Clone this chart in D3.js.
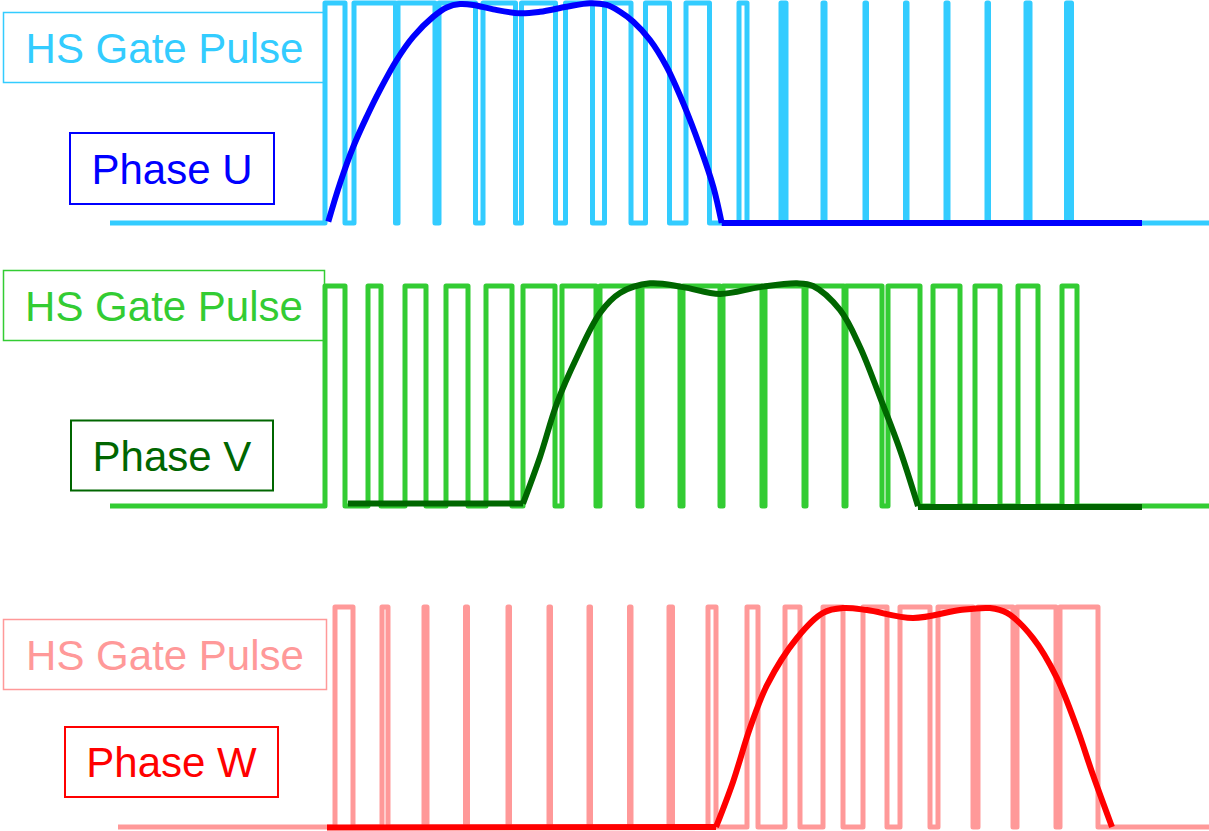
<!DOCTYPE html>
<html><head><meta charset="utf-8">
<script src="https://cdn.jsdelivr.net/npm/d3@7"></script>
<style>html,body{margin:0;padding:0;background:#fff;} svg{display:block;}</style>
</head><body>
<svg id="chart" width="1209" height="831"></svg>
<script>
// ---------------- DATA (time in carrier-sample units, level 0..1) ----------------
const phaseNames = ["U", "V", "W"];
const gateLabel = "HS Gate Pulse";
const phaseLabels = ["Phase U", "Phase V", "Phase W"];

// HS gate pulse: [rise, fall] of each high interval
const gateU = [[325,345],[354,395.5],[398,435],[439,475.5],[483,515.5],[521.5,555.5],[565.5,592.5],[604.5,631],[645.5,669.5],[686,709.5],
               [739,747],[781,786],[823,825],[865,866.5],[905.5,907],[946,948],[987,988.5],[1026,1030],[1066.5,1071.5]];
const gateV = [[325,345],[368,381],[405,426],[446,468],[486,512],[523,555],[562,596],[600,638],[642,680],[683,720],
               [723,762],[765,804],[806,844],[846,882],[888,920],[933,960],[975,1000],[1018,1038],[1062,1077]];
const gateW = [[335,353],[382,388],[424,427],[465.5,467.5],[508,509.5],[549,550.5],[589,590.5],[629.5,631],[669,672.5],[708,716],
               [747,758],[785,800],[823,843],[863,887],[900,930],[938,973],[978,1013],[1017,1056],[1060,1098]];
const gateStart = [110, 110, 118];
const gateEnd = [1209, 1209, 1209];

// phase output waveforms [t, level]
const humpU = [[328.3,0.006],[340,0.180],[353.3,0.347],[366.7,0.483],[380,0.605],[396.7,0.741],[413.3,0.847],[433.3,0.938],[446.7,0.980],[460,0.995],
               [473.3,0.991],[493.3,0.971],[520,0.953],[540,0.960],[566.7,0.983],[590,0.999],[606.7,0.991],[620,0.960],[633.3,0.915],[650,0.832],
               [666.7,0.710],[683.3,0.544],[700,0.347],[713.3,0.165],[721.7,0]];
const flatU = [[[721.7,0],[1142,0]]];

const humpV = [[523,0.011],[540,0.223],[557,0.468],[577,0.677],[600,0.877],[620,0.968],[650,1.012],[683,0.995],[720,0.964],[760,0.995],
               [797,1.012],[813,1.0],[840,0.891],[860,0.723],[880,0.495],[900,0.255],[918,0.0]];
const flatV = [[[348,0.011],[523,0.011]],[[918,-0.005],[1142,-0.005]]];

const humpW = [[716,0],[733,0.205],[750,0.45],[767,0.645],[797,0.859],[823,0.973],[843,0.995],[867,0.986],[913,0.95],[960,0.986],
               [990,0.995],[1007,0.973],[1033,0.859],[1057,0.677],[1077,0.45],[1093,0.236],[1112,0]];
const flatW = [[[327,-0.002],[716,0]]];

// ---------------- LAYOUT / STYLE ----------------
const W = 1209, H = 831;
const svg = d3.select("#chart");
const x = d3.scaleLinear().domain([0, 1209]).range([0, W]);

const panels = [
  {gate: gateU, hump: humpU, flats: flatU, low: 223, high: 3, light: "#33CCFF", dark: "#0000FF",
   gateBox: [3.5, 12.5, 322, 70], phaseBox: [70, 133, 204, 71]},
  {gate: gateV, hump: humpV, flats: flatV, low: 506, high: 286, light: "#33CC33", dark: "#006600",
   gateBox: [3.5, 270.5, 321, 70], phaseBox: [71, 420.5, 202, 70]},
  {gate: gateW, hump: humpW, flats: flatW, low: 827, high: 607, light: "#FF9999", dark: "#FF0000",
   gateBox: [3.5, 619.5, 323, 70], phaseBox: [65, 727, 213, 70]}
];

panels.forEach((p, i) => {
  const y = d3.scaleLinear().domain([0, 1]).range([p.low, p.high]);
  const g = svg.append("g").attr("class", "panel-" + phaseNames[i]);

  // gate pulse train as points
  const pts = [[gateStart[i], 0]];
  p.gate.forEach(([r, f]) => { pts.push([r, 0], [r, 1], [f, 1], [f, 0]); });
  pts.push([gateEnd[i], 0]);
  const stepLine = d3.line().x(d => x(d[0])).y(d => y(d[1]));
  g.append("path").attr("d", stepLine(pts))
    .attr("fill", "none").attr("stroke", p.light).attr("stroke-width", 5)
    .attr("stroke-linejoin", "round").attr("stroke-linecap", "butt");

  // phase output
  const smooth = d3.line().x(d => x(d[0])).y(d => y(d[1])).curve(d3.curveCatmullRom.alpha(0.5));
  const straight = d3.line().x(d => x(d[0])).y(d => y(d[1]));
  p.flats.forEach(f => {
    g.append("path").attr("d", straight(f)).attr("fill", "none")
      .attr("stroke", p.dark).attr("stroke-width", 6).attr("stroke-linecap", "butt");
  });
  g.append("path").attr("d", smooth(p.hump)).attr("fill", "none")
    .attr("stroke", p.dark).attr("stroke-width", 6).attr("stroke-linecap", "butt").attr("stroke-linejoin", "round");

  // labels
  const [bx, by, bw, bh] = p.gateBox;
  g.append("rect").attr("x", bx).attr("y", by).attr("width", bw).attr("height", bh)
    .attr("fill", "none").attr("stroke", p.light).attr("stroke-width", 1.5);
  g.append("text").attr("x", bx + bw / 2).attr("y", by + bh / 2 + 15)
    .attr("text-anchor", "middle").attr("font-family", "'Liberation Sans', Arial, sans-serif")
    .attr("font-size", 42).attr("fill", p.light).text(gateLabel);

  const [px, py, pw, ph] = p.phaseBox;
  g.append("rect").attr("x", px).attr("y", py).attr("width", pw).attr("height", ph)
    .attr("fill", "none").attr("stroke", p.dark).attr("stroke-width", 2);
  g.append("text").attr("x", px + pw / 2).attr("y", py + ph / 2 + 15)
    .attr("text-anchor", "middle").attr("font-family", "'Liberation Sans', Arial, sans-serif")
    .attr("font-size", 42).attr("fill", p.dark).text(phaseLabels[i]);
});
</script>
</body></html>
